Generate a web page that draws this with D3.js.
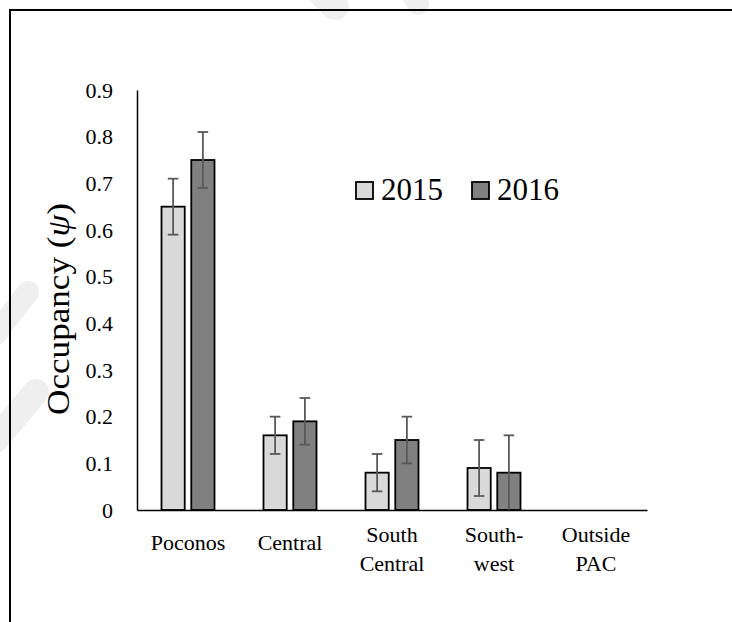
<!DOCTYPE html>
<html>
<head>
<meta charset="utf-8">
<script src="https://cdn.jsdelivr.net/npm/d3@7"></script>
<style>
  html, body { margin: 0; padding: 0; background: #fff; }
  svg { display: block; }
</style>
</head>
<body>
<svg id="chart" width="732" height="622"></svg>
<script>
// Occupancy estimates by region and year
const categories = ["Poconos", "Central", "South Central", "South-west", "Outside PAC"];
const categoryLines = [["Poconos"], ["Central"], ["South", "Central"], ["South-", "west"], ["Outside", "PAC"]];
const seriesNames = ["2015", "2016"];
const occ2015 = [0.65, 0.16, 0.08, 0.09, null];
const occ2016 = [0.75, 0.19, 0.15, 0.08, null];
const low2015  = [0.59, 0.12, 0.04, 0.03, null];
const high2015 = [0.71, 0.20, 0.12, 0.15, null];
const low2016  = [0.69, 0.14, 0.10, 0.00, null];
const high2016 = [0.81, 0.24, 0.20, 0.16, null];
const yTicks = [0, 0.1, 0.2, 0.3, 0.4, 0.5, 0.6, 0.7, 0.8, 0.9];

const fills = { "2015": "#d9d9d9", "2016": "#808080" };

// pick the first installed Times-like face
function installed(name) {
  const ctx = document.createElement("canvas").getContext("2d");
  const probe = "Poconos Occupancy 0123456789 wmiIl";
  return ["monospace", "sans-serif"].some(base => {
    ctx.font = `40px ${base}`;
    const a = ctx.measureText(probe).width;
    ctx.font = `40px "${name}", ${base}`;
    return ctx.measureText(probe).width !== a;
  });
}
const serifCandidates = ["Liberation Serif", "Tinos", "Times New Roman", "Times", "Nimbus Roman", "Nimbus Roman No9 L",
  "FreeSerif", "DejaVu Serif", "Noto Serif"];
const found = serifCandidates.find(installed);
const serif = found ? `"${found}", serif` : "serif";

const rows = [];
categories.forEach((c, i) => {
  rows.push({ cat: c, series: "2015", v: occ2015[i], lo: low2015[i], hi: high2015[i] });
  rows.push({ cat: c, series: "2016", v: occ2016[i], lo: low2016[i], hi: high2016[i] });
});

const svg = d3.select("#chart").attr("font-family", serif);

// faint backdrop strokes
const bg = svg.append("g").attr("stroke", "#efefef").attr("stroke-linecap", "round").attr("fill", "none");
[[[300, -30], [335, 6], 28], [[398, -30], [418, 4], 22], [[28, 292], [-5, 335], 22], [[36, 392], [-5, 440], 26]]
  .forEach(([a, b, w]) => bg.append("line").attr("x1", a[0]).attr("y1", a[1]).attr("x2", b[0]).attr("y2", b[1]).attr("stroke-width", w));

// frame
svg.append("path").attr("d", "M10,622 V10 H732").attr("fill", "none").attr("stroke", "#000").attr("stroke-width", 2);

const groupWidth = 53;
const x0 = d3.scaleBand().domain(categories).range([137, 647]);
const x1 = d3.scaleBand().domain(seriesNames).range([0, groupWidth]).paddingInner(0.22);
const y = d3.scaleLinear().domain([0, 0.9]).range([510, 90]);

// y axis
const yAxis = svg.append("g").attr("transform", "translate(137,0)")
  .call(d3.axisLeft(y).tickValues(yTicks).tickSize(0).tickPadding(24)
    .tickFormat(d => d === 0 ? "0" : d3.format(".1f")(d)))
  .attr("font-family", serif).attr("font-size", 22);
yAxis.select(".domain").attr("stroke", "#000").attr("stroke-width", 1.5);
yAxis.selectAll("text").attr("fill", "#000");

// y axis title
svg.append("text")
  .attr("transform", "translate(69,309) rotate(-90)")
  .attr("text-anchor", "middle")
  .attr("font-size", 31)
  .attr("textLength", 212).attr("lengthAdjust", "spacingAndGlyphs")
  .call(t => {
    t.append("tspan").text("Occupancy (");
    t.append("tspan").attr("font-style", "italic").text("ψ");
    t.append("tspan").text(")");
  });

// bars
const groups = svg.append("g").selectAll("g").data(rows.filter(d => d.v != null)).join("g")
  .attr("transform", d => `translate(${x0(d.cat) + x0.bandwidth() / 2 - groupWidth / 2},0)`);
groups.append("rect")
  .attr("x", d => x1(d.series))
  .attr("width", x1.bandwidth())
  .attr("y", d => y(d.v))
  .attr("height", d => y(0) - y(d.v))
  .attr("fill", d => fills[d.series])
  .attr("stroke", "#000").attr("stroke-width", 1.8);

// error bars
const eb = groups.append("g").attr("stroke", "#595959").attr("stroke-width", 1.8)
  .attr("transform", d => `translate(${x1(d.series) + x1.bandwidth() / 2},0)`);
eb.append("line").attr("y1", d => y(d.lo)).attr("y2", d => y(d.hi));
eb.append("line").attr("x1", -5.3).attr("x2", 5.3).attr("y1", d => y(d.hi)).attr("y2", d => y(d.hi));
eb.append("line").attr("x1", -5.3).attr("x2", 5.3).attr("y1", d => y(d.lo)).attr("y2", d => y(d.lo))
  .attr("display", d => d.lo <= 0 ? "none" : null);

// x axis
const xAxis = svg.append("g").attr("transform", `translate(0,${y(0)})`)
  .call(d3.axisBottom(x0).tickSize(0).tickFormat(""))
  .attr("font-family", serif);
xAxis.select(".domain").attr("stroke", "#000").attr("stroke-width", 1.5);
xAxis.selectAll(".tick").each(function (d, i) {
  const lines = categoryLines[i];
  const t = d3.select(this).append("text")
    .attr("text-anchor", "middle").attr("font-size", 22).attr("fill", "#000");
  const first = lines.length === 1 ? 40 : 31.5;
  lines.forEach((s, k) => t.append("tspan").attr("x", 0).attr("y", first + k * 29).text(s));
});

// legend
const legend = svg.append("g").attr("transform", "translate(356,182)");
seriesNames.forEach((s, i) => {
  const g = legend.append("g").attr("transform", `translate(${i * 116},0)`);
  g.append("rect").attr("width", 17).attr("height", 17).attr("fill", fills[s]).attr("stroke", "#000").attr("stroke-width", 1.8);
  g.append("text").attr("x", 25).attr("y", 18).attr("font-size", 31).text(s);
});
</script>
</body>
</html>
